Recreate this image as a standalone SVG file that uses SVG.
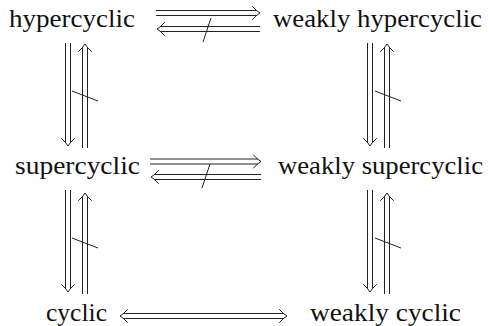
<svg xmlns="http://www.w3.org/2000/svg" xmlns:xlink="http://www.w3.org/1999/xlink" width="489" height="326" viewBox="0 0 489 326">
<style>
  .t { font-family: "Liberation Serif", "Latin Modern Roman", "CMU Serif", "Noto Serif", "DejaVu Serif", "TeX Gyre Termes", "Nimbus Roman", "FreeSerif", Tinos, Georgia, "Times New Roman", Times, serif; font-size: 26px; fill: #111; }
  .ln { stroke: #222; stroke-width: 1; fill: none; }
  .hd { stroke: #222; stroke-width: 1; fill: none; stroke-linecap: round; stroke-linejoin: round; }
</style>
<defs>
  <path id="head" class="hd" d="M -7.5,-6.5 Q -3,-1.5 0,0 Q -3,1.5 -7.5,6.5"/>
</defs>
<rect width="489" height="326" fill="#fff"/>

<g id="hypercyclic"><text class="t" x="9" y="27" textLength="126" lengthAdjust="spacingAndGlyphs">hypercyclic</text></g>
<g id="weakly-hypercyclic"><text class="t" x="273" y="27" textLength="209" lengthAdjust="spacingAndGlyphs">weakly hypercyclic</text></g>
<g id="supercyclic"><text class="t" x="15" y="174" textLength="125" lengthAdjust="spacingAndGlyphs">supercyclic</text></g>
<g id="weakly-supercyclic"><text class="t" x="278" y="174" textLength="205" lengthAdjust="spacingAndGlyphs">weakly supercyclic</text></g>
<g id="cyclic"><text class="t" x="46" y="321" textLength="61" lengthAdjust="spacingAndGlyphs">cyclic</text></g>
<g id="weakly-cyclic"><text class="t" x="310" y="321" textLength="151" lengthAdjust="spacingAndGlyphs">weakly cyclic</text></g>

<g id="connectors">
  <line class="ln" x1="156" y1="10.5" x2="257" y2="10.5"/>
  <line class="ln" x1="156" y1="15.5" x2="257" y2="15.5"/>
  <use xlink:href="#head" transform="translate(260,13)"/>
  <line class="ln" x1="160" y1="26.5" x2="260" y2="26.5"/>
  <line class="ln" x1="160" y1="31.5" x2="260" y2="31.5"/>
  <use xlink:href="#head" transform="translate(157,29) rotate(180)"/>
  <line class="ln" x1="211" y1="18" x2="203" y2="42"/>

  <line class="ln" x1="150" y1="159" x2="258" y2="159"/>
  <line class="ln" x1="150" y1="164" x2="258" y2="164"/>
  <use xlink:href="#head" transform="translate(261,161.5)"/>
  <line class="ln" x1="154" y1="174.5" x2="261" y2="174.5"/>
  <line class="ln" x1="154" y1="179.5" x2="261" y2="179.5"/>
  <use xlink:href="#head" transform="translate(151,177) rotate(180)"/>
  <line class="ln" x1="210" y1="164" x2="202" y2="188"/>

  <line class="ln" x1="123" y1="313.5" x2="284" y2="313.5"/>
  <line class="ln" x1="123" y1="318.5" x2="284" y2="318.5"/>
  <use xlink:href="#head" transform="translate(287,316)"/>
  <use xlink:href="#head" transform="translate(120,316) rotate(180)"/>

  <line class="ln" x1="65.5" y1="43" x2="65.5" y2="143"/>
  <line class="ln" x1="70.5" y1="43" x2="70.5" y2="143"/>
  <use xlink:href="#head" transform="translate(68,146) rotate(90)"/>
  <line class="ln" x1="82.5" y1="47" x2="82.5" y2="148"/>
  <line class="ln" x1="87.5" y1="47" x2="87.5" y2="148"/>
  <use xlink:href="#head" transform="translate(85,44) rotate(-90)"/>
  <line class="ln" x1="72" y1="91" x2="98" y2="101"/>

  <line class="ln" x1="367.5" y1="43" x2="367.5" y2="143"/>
  <line class="ln" x1="372.5" y1="43" x2="372.5" y2="143"/>
  <use xlink:href="#head" transform="translate(370,146) rotate(90)"/>
  <line class="ln" x1="384.5" y1="47" x2="384.5" y2="148"/>
  <line class="ln" x1="389.5" y1="47" x2="389.5" y2="148"/>
  <use xlink:href="#head" transform="translate(387,44) rotate(-90)"/>
  <line class="ln" x1="375" y1="91" x2="401" y2="101"/>

  <line class="ln" x1="65.5" y1="190" x2="65.5" y2="289"/>
  <line class="ln" x1="70.5" y1="190" x2="70.5" y2="289"/>
  <use xlink:href="#head" transform="translate(68,292) rotate(90)"/>
  <line class="ln" x1="82.5" y1="196" x2="82.5" y2="294"/>
  <line class="ln" x1="87.5" y1="196" x2="87.5" y2="294"/>
  <use xlink:href="#head" transform="translate(85,193) rotate(-90)"/>
  <line class="ln" x1="72" y1="238" x2="98" y2="248"/>

  <line class="ln" x1="367.5" y1="190" x2="367.5" y2="289"/>
  <line class="ln" x1="372.5" y1="190" x2="372.5" y2="289"/>
  <use xlink:href="#head" transform="translate(370,292) rotate(90)"/>
  <line class="ln" x1="384.5" y1="196" x2="384.5" y2="294"/>
  <line class="ln" x1="389.5" y1="196" x2="389.5" y2="294"/>
  <use xlink:href="#head" transform="translate(387,193) rotate(-90)"/>
  <line class="ln" x1="375" y1="238" x2="401" y2="248"/>
</g>
</svg>
